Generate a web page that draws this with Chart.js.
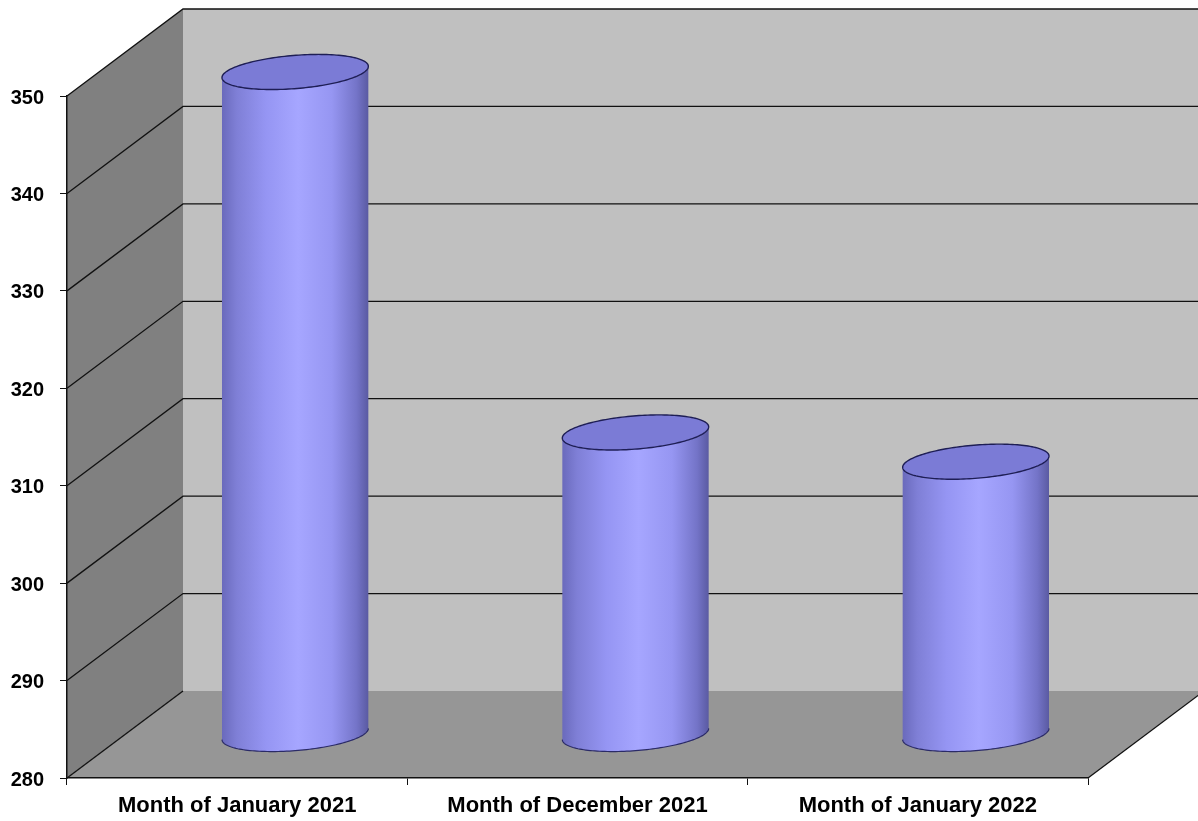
<!DOCTYPE html>
<html>
<head>
<meta charset="utf-8">
<title>Monthly totals</title>
<script src="https://cdn.jsdelivr.net/npm/chart.js@4.4.1/dist/chart.umd.min.js"></script>
<style>
  html, body { margin: 0; padding: 0; background: #fff; }
  #wrap { width: 1198px; height: 821px; position: relative; }
</style>
</head>
<body>
<div id="wrap"><canvas id="myChart"></canvas></div>
<script>
const categories = ['Month of January 2021', 'Month of December 2021', 'Month of January 2022'];
const values = [348, 311, 308];
const yTicks = [280, 290, 300, 310, 320, 330, 340, 350];

// oblique offset from the front plane to the back wall
const DEPTH_X = 116;
const DEPTH_Y = -87;

function polygon(ctx, pts, fill) {
    ctx.beginPath();
    ctx.moveTo(pts[0][0], pts[0][1]);
    for (let i = 1; i < pts.length; i++) ctx.lineTo(pts[i][0], pts[i][1]);
    ctx.closePath();
    ctx.fillStyle = fill;
    ctx.fill();
}

function line(ctx, pts) {
    ctx.beginPath();
    ctx.moveTo(pts[0][0], pts[0][1]);
    for (let i = 1; i < pts.length; i++) ctx.lineTo(pts[i][0], pts[i][1]);
    ctx.stroke();
}

// back wall, side wall, floor and their gridlines
const wallsPlugin = {
    id: 'walls',
    beforeDraw(chart) {
        const ctx = chart.ctx;
        const a = chart.chartArea;
        const y = chart.scales.y;
        const bx = a.left + DEPTH_X;
        ctx.save();
        ctx.fillStyle = '#c0c0c0';
        ctx.fillRect(bx, a.top + DEPTH_Y, a.right - a.left, a.bottom - a.top);
        polygon(ctx, [[a.left, a.top], [bx, a.top + DEPTH_Y], [bx, a.bottom + DEPTH_Y], [a.left, a.bottom]], '#808080');
        polygon(ctx, [[a.left, a.bottom], [a.right, a.bottom], [a.right + DEPTH_X, a.bottom + DEPTH_Y], [bx, a.bottom + DEPTH_Y]], '#969696');

        ctx.strokeStyle = '#111';
        ctx.lineWidth = 1.3;
        yTicks.forEach(function(v, i) {
            const py = y.getPixelForValue(v);
            if (i === 0) {
                line(ctx, [[a.left, py], [bx, py + DEPTH_Y]]);
            } else {
                line(ctx, [[a.left, py], [bx, py + DEPTH_Y], [a.right + DEPTH_X, py + DEPTH_Y]]);
            }
        });
        line(ctx, [[a.right, a.bottom], [a.right + DEPTH_X, a.bottom + DEPTH_Y]]);
        ctx.restore();
    }
};

// cylinders drawn over the (transparent) bar elements
const cylinderPlugin = {
    id: 'cylinders',
    afterDatasetsDraw(chart) {
        const ctx = chart.ctx;
        const meta = chart.getDatasetMeta(0);
        meta.data.forEach(function(bar) {
            const p = bar.getProps(['x', 'y', 'base', 'width'], true);
            const cx = p.x + DEPTH_X / 2;
            const topY = p.y + DEPTH_Y / 2;
            const botY = p.base + DEPTH_Y / 2;
            const half = p.width / 2;
            const vy = half * 0.24;
            const vx = vy * DEPTH_X / -DEPTH_Y;
            const ax = Math.sqrt(half * half - vx * vx);
            const t0 = Math.atan2(vx, ax);
            const pt = function(cy, t) {
                return [cx + ax * Math.cos(t) + vx * Math.sin(t), cy - vy * Math.sin(t)];
            };
            const steps = 80;

            ctx.save();
            // body
            ctx.beginPath();
            for (let i = 0; i <= steps; i++) {
                const q = pt(botY, t0 + Math.PI + Math.PI * i / steps);
                if (i === 0) ctx.moveTo(q[0], q[1]); else ctx.lineTo(q[0], q[1]);
            }
            for (let i = 0; i <= steps; i++) {
                const q = pt(topY, t0 + 2 * Math.PI - Math.PI * i / steps);
                ctx.lineTo(q[0], q[1]);
            }
            ctx.closePath();
            const g = ctx.createLinearGradient(cx - half, 0, cx + half, 0);
            g.addColorStop(0, '#6a6abc');
            g.addColorStop(0.1, '#7f7fd6');
            g.addColorStop(0.3, '#9595f3');
            g.addColorStop(0.52, '#a6a6ff');
            g.addColorStop(0.75, '#9696f2');
            g.addColorStop(0.92, '#7474c8');
            g.addColorStop(1, '#5a5aa2');
            ctx.fillStyle = g;
            ctx.fill();

            // bottom rim
            ctx.strokeStyle = '#2a2a66';
            ctx.lineWidth = 1.2;
            ctx.beginPath();
            for (let i = 0; i <= steps; i++) {
                const q = pt(botY, t0 + Math.PI + Math.PI * i / steps);
                if (i === 0) ctx.moveTo(q[0], q[1]); else ctx.lineTo(q[0], q[1]);
            }
            ctx.stroke();

            // top face
            ctx.beginPath();
            for (let i = 0; i <= 2 * steps; i++) {
                const q = pt(topY, Math.PI * i / steps);
                if (i === 0) ctx.moveTo(q[0], q[1]); else ctx.lineTo(q[0], q[1]);
            }
            ctx.closePath();
            ctx.fillStyle = '#7b7bd6';
            ctx.fill();
            ctx.strokeStyle = '#1e1e55';
            ctx.lineWidth = 1.4;
            ctx.stroke();
            ctx.restore();
        });
    }
};

const ctx = document.getElementById('myChart').getContext('2d');
const chart = new Chart(ctx, {
    type: 'bar',
    data: {
        labels: categories,
        datasets: [{
            data: values,
            base: yTicks[0],
            backgroundColor: 'rgba(0,0,0,0)',
            borderWidth: 0,
            categoryPercentage: 0.86,
            barPercentage: 0.5
        }]
    },
    options: {
        responsive: true,
        maintainAspectRatio: false,
        animation: false,
        layout: { padding: { top: 96, right: 110, left: 0, bottom: 0 } },
        plugins: {
            legend: { display: false },
            tooltip: { enabled: false }
        },
        scales: {
            x: {
                grid: { drawOnChartArea: false, drawTicks: true, tickLength: 7, color: '#111', offset: true },
                border: { color: '#111', width: 1.5 },
                ticks: {
                    color: '#000',
                    padding: 8,
                    maxRotation: 0,
                    font: { family: 'Liberation Sans, Arial, sans-serif', size: 22, weight: 'bold' }
                },
                afterFit(scale) { scale.height = 43; }
            },
            y: {
                min: 280,
                max: 350,
                grid: { drawOnChartArea: false, drawTicks: true, tickLength: 7, color: '#111' },
                border: { color: '#111', width: 1.5 },
                ticks: {
                    stepSize: 10,
                    color: '#000',
                    padding: 16,
                    labelOffset: 2,
                    font: { family: 'Liberation Sans, Arial, sans-serif', size: 20, weight: 'bold' }
                },
                afterFit(scale) { scale.width = 67; }
            }
        }
    },
    plugins: [wallsPlugin, cylinderPlugin]
});
</script>
</body>
</html>
